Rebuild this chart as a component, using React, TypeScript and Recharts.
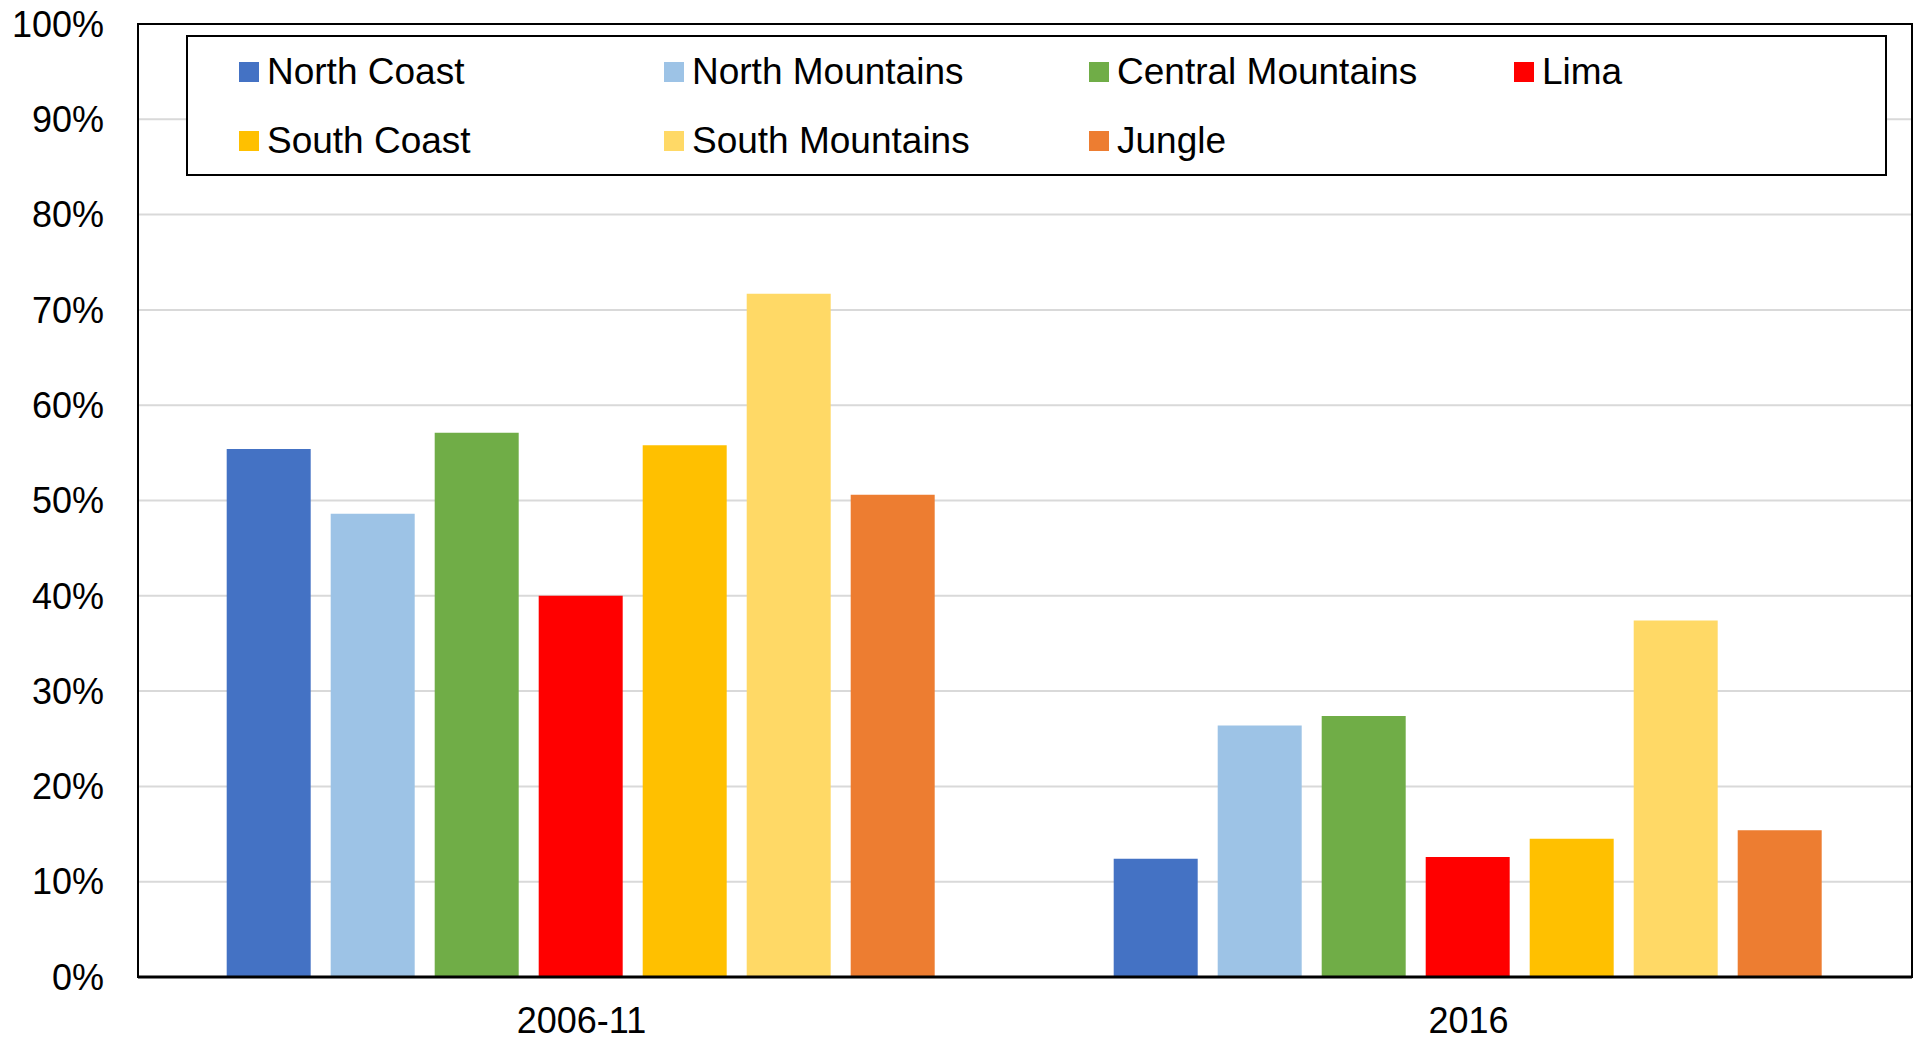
import { BarChart, Bar, XAxis, YAxis, CartesianGrid, Legend, ReferenceArea } from 'recharts';

const categories = ['2006-11', '2016'];
const seriesNames = ['North Coast', 'North Mountains', 'Central Mountains', 'Lima', 'South Coast', 'South Mountains', 'Jungle'];
const seriesColors = ['#4472C4', '#9DC3E6', '#70AD47', '#FF0000', '#FFC000', '#FFD966', '#ED7D31'];

const northCoast = [55.4, 12.4];
const northMountains = [48.6, 26.4];
const centralMountains = [57.1, 27.4];
const lima = [40.0, 12.6];
const southCoast = [55.8, 14.5];
const southMountains = [71.7, 37.4];
const jungle = [50.6, 15.4];

const yTicks = [0, 10, 20, 30, 40, 50, 60, 70, 80, 90, 100];

const seriesValues = [northCoast, northMountains, centralMountains, lima, southCoast, southMountains, jungle];

// one row per category, one key per series
const chartData = categories.map((name, i) => {
  const row: Record<string, string | number> = { name };
  seriesNames.forEach((s, j) => {
    row[s] = seriesValues[j][i];
  });
  return row;
});

const FONT = '"Liberation Sans", Arial, sans-serif';

// legend keeps the series order (recharts would sort it by name), 4 columns
const LegendBox = () => (
  <div
    style={{
      display: 'grid',
      gridTemplateColumns: 'repeat(4, 425px)',
      gridAutoRows: '69px',
      boxSizing: 'border-box',
      width: '100%',
      height: '100%',
      border: '2px solid #000',
      paddingLeft: 51,
      background: '#fff',
      overflow: 'hidden',
    }}
  >
    {seriesNames.map((s, j) => (
      <div key={s} style={{ display: 'flex', alignItems: 'center', whiteSpace: 'nowrap' }}>
        <span style={{ width: 20, height: 20, background: seriesColors[j], marginRight: 8, display: 'inline-block' }} />
        <span style={{ fontSize: 37, color: '#000', fontFamily: FONT }}>{s}</span>
      </div>
    ))}
  </div>
);

export default function App() {
  return (
    <div style={{ position: 'absolute', left: 0, top: 0, width: 1914, height: 1040, background: '#fff' }}>
      <BarChart
        width={1914}
        height={1040}
        data={chartData}
        margin={{ top: 24, right: 2, left: 0, bottom: 0 }}
        barCategoryGap="10%"
        barGap={20}
        style={{ fontFamily: FONT }}
      >
        <CartesianGrid vertical={false} stroke="#d9d9d9" strokeWidth={2} />
        <ReferenceArea y1={0} y2={100} fill="none" stroke="#000" strokeWidth={2} />
        <XAxis
          dataKey="name"
          height={63}
          axisLine={{ stroke: '#000', strokeWidth: 3 }}
          tickLine={false}
          tickSize={0}
          tickMargin={30}
          tick={{ fill: '#000', fontSize: 36 }}
        />
        <YAxis
          width={138}
          domain={[0, 100]}
          ticks={yTicks}
          tickFormatter={(v: number) => `${v}%`}
          axisLine={{ stroke: '#000', strokeWidth: 2 }}
          tickLine={false}
          tickSize={0}
          tickMargin={34}
          tick={{ fill: '#000', fontSize: 36 }}
        />
        <Legend
          layout="horizontal"
          verticalAlign="middle"
          align="center"
          content={<LegendBox />}
          wrapperStyle={{ left: 186, top: 35, width: 1701, height: 141 }}
        />
        {seriesNames.map((s, j) => (
          <Bar key={s} dataKey={s} fill={seriesColors[j]} isAnimationActive={false} />
        ))}
      </BarChart>
    </div>
  );
}
